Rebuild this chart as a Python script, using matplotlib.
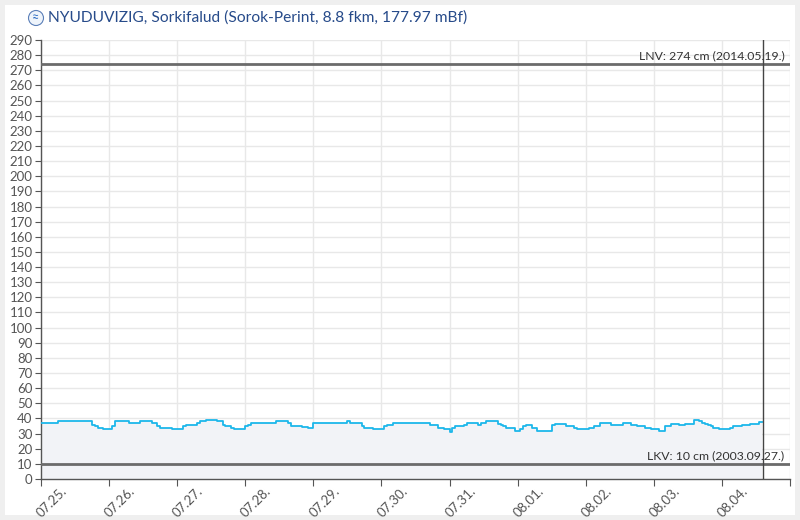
import numpy as np
import matplotlib
matplotlib.use("Agg")
import matplotlib.pyplot as plt
from matplotlib.patches import Ellipse, Rectangle
from matplotlib.transforms import ScaledTranslation

plt.rcParams['font.family'] = ['Lato', 'DejaVu Sans']

### DATA ###

title = 'NYUDUVIZIG, Sorkifalud (Sorok-Perint, 8.8 fkm, 177.97 mBf)'
day_labels = ['07.25.', '07.26.', '07.27.', '07.28.', '07.29.', '07.30.',
              '07.31.', '08.01.', '08.02.', '08.03.', '08.04.']

# hourly water level readings (cm), starting 07.25. 00:00
levels_0725 = [37]*6 + [38]*12 + [36, 35, 34, 34, 33, 33]
levels_0726 = [33, 35] + [38]*5 + [37]*4 + [38]*4 + [37, 37, 35, 34, 34, 34, 34, 33, 33]
levels_0727 = [33, 33, 35, 36, 36, 36, 36, 37, 38, 38, 39, 39, 39, 39, 38, 38,
               36, 35, 35, 34, 33, 33, 33, 33]
levels_0728 = [35, 36] + [37]*9 + [38]*4 + [37, 35, 35, 35, 35, 34.5, 34.5, 34, 34]
levels_0729 = [37]*12 + [38, 37, 37, 37, 37, 35, 34, 34, 34, 33, 33, 33]
levels_0730 = [33, 35, 36, 36] + [37]*13 + [36, 36, 36, 34, 34, 33, 33]
levels_0731 = [31, 34, 35, 35, 35, 36, 37, 37, 37, 37, 36, 37, 37, 38, 38, 38,
               38, 36.5, 36, 35, 34, 34, 34, 31.5]
levels_0801 = [31.5, 33, 35, 36, 36, 34, 34, 32, 32, 31.5, 31.5, 31.5, 36, 36.5,
               36.5, 36.5, 36.5, 35, 35, 35, 34, 33, 33, 33]
levels_0802 = [33, 34, 34, 35, 35, 37, 37, 37, 37, 36, 36, 36, 36, 37, 37, 37,
               36, 36, 35, 35, 35, 34, 34, 33]
levels_0803 = [33, 33, 32, 32, 35, 35, 36.5, 36.5, 36.5, 36, 36, 36.5, 36.5,
               36.5, 39, 39, 38, 37, 36.5, 36, 35, 34, 33.5, 33]
levels_0804 = [33, 33, 33, 34, 35, 35, 35, 36, 36, 36, 36.5, 36.5, 36.5, 37.5, 37.5]

lnv_value = 274
lnv_text = 'LNV: 274 cm (2014.05.19.)'
lkv_value = 10
lkv_text = 'LKV: 10 cm (2003.09.27.)'

### PLOTTING ###

levels = (levels_0725 + levels_0726 + levels_0727 + levels_0728 + levels_0729 +
          levels_0730 + levels_0731 + levels_0801 + levels_0802 + levels_0803 +
          levels_0804)
hours = np.arange(len(levels))
now = hours[-1] + 0.5

fig = plt.figure(figsize=(8, 5.2), dpi=100)
fig.patch.set_facecolor('#efefef')
fig.patches.append(Rectangle((5/800, 5/520), 790/800, 510/520, transform=fig.transFigure,
                             facecolor='white', edgecolor='none', zorder=-1))

ax = fig.add_axes([41/800, 1 - 479/520, 749/800, 439/520])
ax.set_facecolor('white')

ax.fill_between(hours, levels, 0, step='post', color='#f2f3f7', linewidth=0, zorder=1)
ax.step(hours, levels, where='post', color='#1db7ea', linewidth=1.3, zorder=3)

ax.axhline(lnv_value, color='#6b6b6b', linewidth=2, zorder=4)
ax.axhline(lkv_value, color='#6b6b6b', linewidth=2, zorder=4)
ax.axvline(now, color='#444444', linewidth=1, zorder=5)
ax.text(262, lnv_value + 2, lnv_text, ha='right', va='bottom', fontsize=8.8, color='#333333', zorder=6)
ax.text(262, lkv_value + 2, lkv_text, ha='right', va='bottom', fontsize=8.8, color='#333333', zorder=6)

ax.set_xlim(0, 264)
ax.set_ylim(0, 290)
ax.set_yticks(np.arange(0, 291, 10))
day_ticks = np.arange(0, 265, 24)
ax.set_xticks(day_ticks)
ax.set_xticklabels([])

# rotated day labels, shifted right of the tick like the original chart
offset = ScaledTranslation(11/100, -23/100, fig.dpi_scale_trans)
for pos, lab in zip(day_ticks, day_labels):
    ax.text(pos, 0, lab, rotation=45, ha='center', va='center', rotation_mode='anchor',
            fontsize=9.5, color='#555555', transform=ax.get_xaxis_transform() + offset,
            clip_on=False)

ax.grid(True, color='#e8e8e8', linewidth=1, zorder=0)
ax.set_axisbelow(True)
for side in ['top', 'right']:
    ax.spines[side].set_visible(False)
for side in ['left', 'bottom']:
    ax.spines[side].set_color('#555555')
    ax.spines[side].set_linewidth(1)
ax.tick_params(axis='y', length=4, color='#555555', labelcolor='#555555', labelsize=9.5, pad=2)
ax.tick_params(axis='x', length=5, color='#555555')

# title with small logo
fig.patches.append(Ellipse((36/800, 1 - 18/520), 15/800, 15/520, transform=fig.transFigure,
                           facecolor='#eef4fb', edgecolor='#5b7fb8', linewidth=0.8))
fig.text(36/800, 1 - 17/520, '≈', ha='center', va='center', fontsize=9, color='#2b6cc4')
fig.text(48/800, 1 - 18/520, title, ha='left', va='center', fontsize=11.2, color='#274b8a')

fig.savefig('out.png', dpi=100, facecolor=fig.get_facecolor())
